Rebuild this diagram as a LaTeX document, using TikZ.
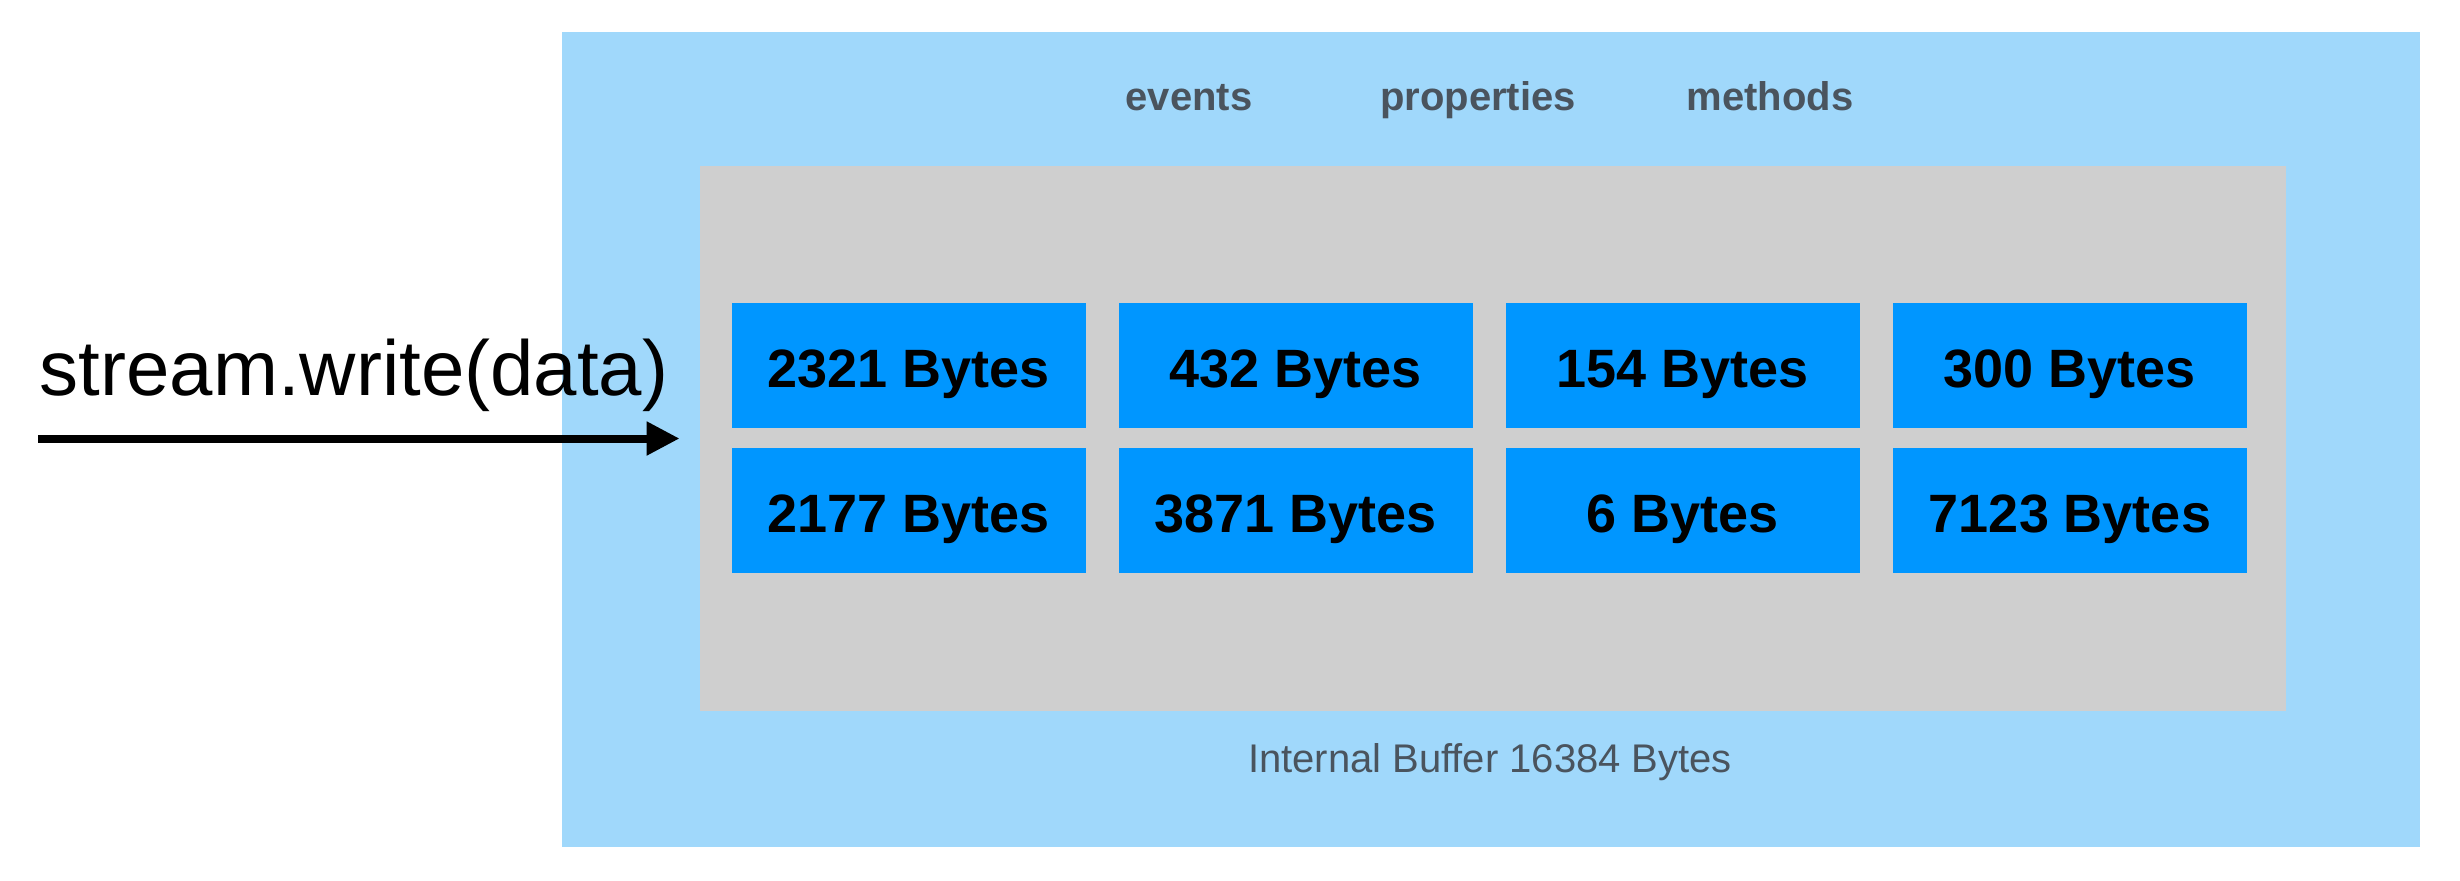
\documentclass[tikz,border=0pt]{standalone}
\usepackage{fontspec}
\setmainfont{Liberation Sans}
\usetikzlibrary{arrows.meta}
\definecolor{outerblue}{RGB}{160,216,251}
\definecolor{cellblue}{RGB}{0,150,255}
\definecolor{buffergray}{RGB}{207,207,207}
\definecolor{labelgray}{RGB}{74,84,94}
\tikzset{
  outerbox/.style={fill=outerblue, draw=none, minimum width=929pt, minimum height=407.5pt, inner sep=0pt},
  graybox/.style={fill=buffergray, draw=none, minimum width=793pt, minimum height=272.5pt, inner sep=0pt},
  cell/.style={fill=cellblue, draw=none, minimum width=177pt, minimum height=62.5pt, inner sep=0pt,
    font=\fontsize{27pt}{30pt}\selectfont\bfseries, text=black, text height=25pt, text depth=3.5pt},
  toplabel/.style={anchor=base, font=\fontsize{20pt}{24pt}\selectfont\bfseries, text=labelgray, inner sep=0pt},
  buflabel/.style={anchor=base, font=\fontsize{20pt}{24pt}\selectfont, text=labelgray, inner sep=0pt},
  calllabel/.style={anchor=base, font=\fontsize{39pt}{44pt}\selectfont, text=black, inner sep=0pt},
  writearrow/.style={line width=4pt, -{Triangle[length=16.5pt, width=16pt]}, shorten >=10pt}
}
\begin{document}
\begin{tikzpicture}[x=0.5pt, y=-0.5pt]
\useasboundingbox (0,0) rectangle (2460,880);
\fill[white] (0,0) rectangle (2460,880);
\node[outerbox] (outer) at (1491,439.5) {};
\node[graybox] (buffer) at (1493,438.5) {};
\node[toplabel] (events) at (1189,110) {events};
\node[toplabel] (props) at (1478,110) {properties};
\node[toplabel] (methods) at (1770,110) {methods};
\node[cell] (c11) at (909,365.5) {2321 Bytes};
\node[cell] (c12) at (1296,365.5) {432 Bytes};
\node[cell] (c13) at (1683,365.5) {154 Bytes};
\node[cell] (c14) at (2070,365.5) {300 Bytes};
\node[cell] (c21) at (909,510.5) {2177 Bytes};
\node[cell] (c22) at (1296,510.5) {3871 Bytes};
\node[cell] (c23) at (1683,510.5) {6 Bytes};
\node[cell] (c24) at (2070,510.5) {7123 Bytes};
\node[buflabel] (buflab) at (1490,772) {Internal Buffer 16384 Bytes};
\node[calllabel] (call) at (354,395) {stream.write(data)};
\coordinate (src) at (38,438.5);
\draw[writearrow] (src) -- (buffer.west);
\end{tikzpicture}
\end{document}
